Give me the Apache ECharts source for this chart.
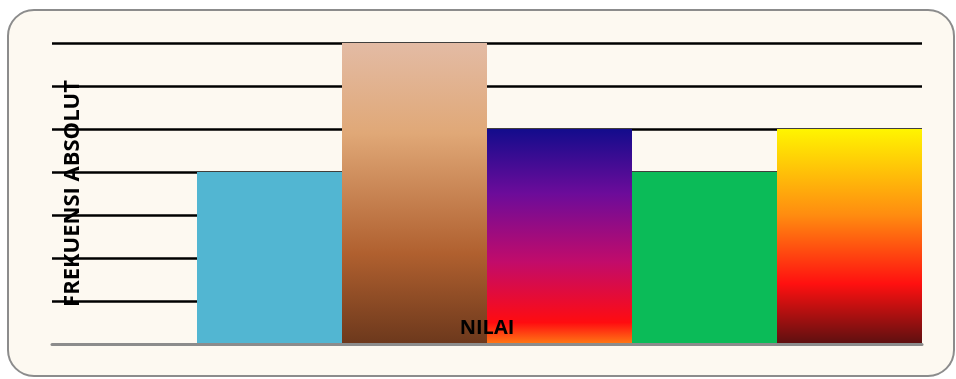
<!DOCTYPE html>
<html>
<head>
<meta charset="utf-8">
<script src="https://cdn.jsdelivr.net/npm/echarts@6/dist/echarts.min.js"></script>
<style>
html, body { margin: 0; padding: 0; background: #fff; }
#chart { width: 956px; height: 379px; }
</style>
</head>
<body>
<div id="chart"></div>
<script>
// data
var categories = ['', 'A', 'B', 'C', 'D', 'E'];
var frekuensi = [0, 4, 7, 5, 4, 5];

function grad (stops) {
  return new echarts.graphic.LinearGradient(0, 0, 0, 1, stops.map(function (s) {
    return { offset: s[0], color: s[1] };
  }));
}

var barColors = [
  '#52B6D2',
  '#52B6D2',
  grad([[0, '#E3BBA4'], [0.3, '#E0A877'], [0.7, '#B0602F'], [1, '#6C381C']]),
  grad([[0, '#130C8C'], [0.3, '#6C0C9A'], [0.62, '#C20C6A'], [0.9, '#FF0C10'], [1, '#FF7A14']]),
  '#0BBB58',
  grad([[0, '#FFF500'], [0.4, '#FF8C10'], [0.72, '#FF1010'], [1, '#5C1010']])
];

var chart = echarts.init(document.getElementById('chart'));
var option = {
  animation: false,
  graphic: [{
    type: 'rect',
    z: -10,
    shape: { x: 8, y: 10, width: 946, height: 366, r: 26 },
    style: { fill: '#FDF9F1', stroke: '#8C8C8C', lineWidth: 2 }
  }],
  grid: { left: 52, right: 34, top: 43, bottom: 35 },
  xAxis: {
    type: 'category',
    data: categories,
    name: 'NILAI',
    nameLocation: 'middle',
    nameGap: -26,
    nameTextStyle: { fontFamily: 'Open Sans', fontWeight: 'bold', fontSize: 20, color: '#000' },
    axisLine: { lineStyle: { color: '#8C8C8C', width: 3 } },
    axisTick: { show: false },
    axisLabel: { show: false },
    z: 20
  },
  yAxis: {
    type: 'value',
    min: 0,
    max: 7,
    interval: 1,
    name: 'FREKUENSI ABSOLUT',
    nameLocation: 'middle',
    nameRotate: 90,
    nameGap: -32,
    nameTextStyle: { fontFamily: 'Open Sans', fontWeight: 'bold', fontSize: 22, color: '#000' },
    axisLine: { show: false },
    axisTick: { show: false },
    axisLabel: { show: false },
    splitLine: { lineStyle: { color: '#000', width: 2.5 } },
    z: 1
  },
  series: [{
    type: 'bar',
    data: frekuensi,
    barWidth: '100%',
    barGap: 0,
    z: 10,
    itemStyle: {
      color: function (p) { return barColors[p.dataIndex]; }
    }
  }]
};
chart.setOption(option);
</script>
</body>
</html>
